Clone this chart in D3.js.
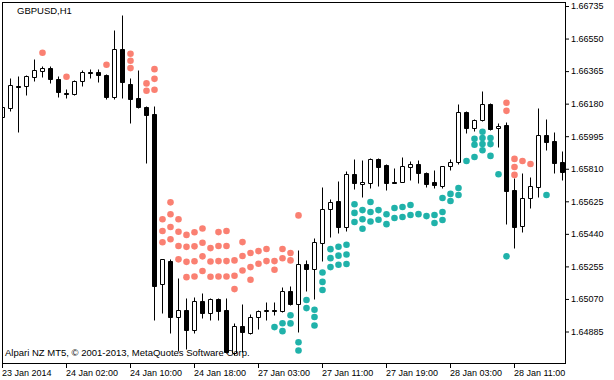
<!DOCTYPE html>
<html><head><meta charset="utf-8">
<script src="https://cdn.jsdelivr.net/npm/d3@7"></script>
<style>
html,body{margin:0;padding:0;background:#fff;}
svg{display:block;}
text{font-family:"Liberation Sans",Arial,sans-serif;fill:#000;}
</style></head>
<body>
<svg id="c" width="614" height="380"></svg>
<script>
const symbolTitle = "GBPUSD,H1";
const footer = "Alpari NZ MT5, © 2001-2013, MetaQuotes Software Corp.";
const xTickIndex = [0, 8, 16, 24, 32, 40, 48, 56, 64];
const xTickLabels = ["23 Jan 2014","24 Jan 02:00","24 Jan 10:00","24 Jan 18:00","27 Jan 03:00","27 Jan 11:00","27 Jan 19:00","28 Jan 03:00","28 Jan 11:00"];
const yTicks = [1.66735,1.66550,1.66365,1.66180,1.65995,1.65810,1.65625,1.65440,1.65255,1.65070,1.64885];

const opens  = [1.66103,1.66154,1.66283,1.66283,1.66331,1.66368,1.66382,1.66320,1.66240,1.66234,
                1.66308,1.66359,1.66359,1.66342,1.66217,1.66490,1.66291,1.66211,1.66160,1.66120,
                1.65153,1.65284,1.64970,1.65010,1.64891,1.65056,1.64988,1.65067,1.65005,1.64760,
                1.64919,1.64879,1.64965,1.64999,1.65005,1.64999,1.65113,1.65044,1.65266,1.65238,
                1.65386,1.65580,1.65625,1.65477,1.65779,1.65722,1.65728,1.65864,1.65830,1.65733,
                1.65733,1.65819,1.65836,1.65784,1.65733,1.65710,1.65824,1.65847,1.66132,1.66041,
                1.66086,1.66177,1.66041,1.66058,1.65688,1.65483,1.65642,1.65705,1.66001,1.65967,1.65847];
const highs  = [1.66172,1.66325,1.66337,1.66340,1.66433,1.66394,1.66394,1.66337,1.66263,1.66314,
                1.66371,1.66376,1.66376,1.66348,1.66598,1.66684,1.66325,1.66371,1.66166,1.66166,
                1.65297,1.65295,1.65187,1.65073,1.65079,1.65101,1.65073,1.65073,1.65073,1.64931,
                1.65039,1.64982,1.65010,1.65050,1.65050,1.65136,1.65141,1.65346,1.65289,1.65414,
                1.65705,1.65636,1.65739,1.65796,1.65864,1.65858,1.65870,1.65870,1.65836,1.65813,
                1.65876,1.65853,1.65858,1.65790,1.65802,1.65824,1.65864,1.66177,1.66137,1.66092,
                1.66251,1.66183,1.66069,1.66075,1.65756,1.65784,1.65762,1.66154,1.66092,1.66018,1.65910];
const lows   = [1.66092,1.66137,1.66018,1.66228,1.66308,1.66331,1.66297,1.66217,1.66211,1.66228,
                1.66280,1.66325,1.66302,1.66206,1.66206,1.66211,1.66069,1.66154,1.65841,1.64953,
                1.64988,1.64874,1.64777,1.64788,1.64879,1.64959,1.64953,1.64953,1.64760,1.64754,
                1.64766,1.64868,1.64902,1.64953,1.64976,1.64993,1.65033,1.64885,1.65118,1.65067,
                1.65284,1.65420,1.65443,1.65454,1.65693,1.65648,1.65699,1.65710,1.65688,1.65728,
                1.65733,1.65745,1.65728,1.65705,1.65699,1.65699,1.65802,1.65836,1.66012,1.66024,
                1.66080,1.66029,1.65932,1.65494,1.65358,1.65449,1.65585,1.65648,1.65915,1.65784,1.65745];
const closes = [1.66160,1.66285,1.66277,1.66337,1.66371,1.66382,1.66320,1.66246,1.66237,1.66308,
                1.66359,1.66356,1.66342,1.66217,1.66490,1.66302,1.66206,1.66160,1.66115,1.65143,
                1.65295,1.64965,1.65010,1.64891,1.65056,1.64988,1.65067,1.64999,1.64766,1.64914,
                1.64885,1.64965,1.64999,1.65010,1.65003,1.65113,1.65044,1.65266,1.65238,1.65392,
                1.65580,1.65619,1.65477,1.65779,1.65728,1.65733,1.65864,1.65819,1.65728,1.65731,
                1.65824,1.65836,1.65784,1.65722,1.65716,1.65824,1.65847,1.66132,1.66041,1.66086,
                1.66177,1.66035,1.66052,1.65682,1.65477,1.65642,1.65710,1.66001,1.65961,1.65841,1.65790];

// indicator dots: [bar index, price]
const salmonDots = [
  [5,1.66469],[8,1.66333],[13,1.66401],
  [16,1.66464],[16,1.66424],[16,1.66382],
  [18,1.66295],[18,1.66253],
  [19,1.66376],[19,1.66321],[19,1.66259],
  [20,1.65523],[20,1.65456],[20,1.65392],
  [21,1.65619],[21,1.65551],[21,1.65479],[21,1.65409],
  [22,1.65523],[22,1.65452],[22,1.65371],[22,1.65295],
  [23,1.65434],[23,1.65366],[23,1.65281],[23,1.65194],
  [24,1.65449],[24,1.65369],[24,1.65284],[24,1.65198],
  [25,1.65470],[25,1.65389],[25,1.65312],[25,1.65229],
  [26,1.65359],[26,1.65283],[26,1.65196],
  [27,1.65450],[27,1.65371],[27,1.65285],[27,1.65198],
  [28,1.65456],[28,1.65371],[28,1.65285],[28,1.65198],
  [29,1.65289],[29,1.65202],[29,1.65126],
  [30,1.65393],[30,1.65314],[30,1.65232],
  [31,1.65331],[31,1.65251],[31,1.65179],
  [32,1.65342],[32,1.65270],
  [33,1.65354],[33,1.65285],
  [34,1.65285],[34,1.65236],
  [35,1.65354],[35,1.65301],
  [36,1.65331],[36,1.65289],
  [37,1.65545],
  [63,1.66185],[63,1.66139],
  [64,1.65866],[64,1.65820],[64,1.65775],
  [65,1.65854],[66,1.65837]
];
const tealDots = [
  [34,1.64910],
  [35,1.64932],[35,1.64887],
  [36,1.64977],[36,1.64931],
  [37,1.64824],[37,1.64777],
  [38,1.65064],[38,1.65018],
  [39,1.65009],[39,1.64967],[39,1.64919],
  [40,1.65220],[40,1.65167],[40,1.65121],
  [41,1.65353],[41,1.65302],[41,1.65251],
  [42,1.65367],[42,1.65316],[42,1.65264],
  [43,1.65378],[43,1.65323],[43,1.65269],
  [44,1.65608],[44,1.65559],[44,1.65507],
  [45,1.65575],[45,1.65523],[45,1.65469],
  [46,1.65621],[46,1.65564],[46,1.65510],
  [47,1.65575],[47,1.65520],
  [48,1.65551],[48,1.65495],
  [49,1.65587],[49,1.65530],
  [50,1.65593],[50,1.65536],
  [51,1.65604],[51,1.65547],
  [52,1.65552],[53,1.65541],
  [54,1.65547],[54,1.65502],
  [55,1.65644],[55,1.65564],[55,1.65519],
  [56,1.65667],[56,1.65627],
  [57,1.65701],[57,1.65661],
  [58,1.65854],
  [59,1.65980],[59,1.65946],[59,1.65877],
  [60,1.66020],[60,1.65985],[60,1.65950],[60,1.65915],
  [61,1.65985],[61,1.65950],[61,1.65883],
  [62,1.65779],[63,1.65312],[68,1.65661]
];

const svg = d3.select("#c");
const x = d3.scaleLinear().domain([0, 70]).range([2, 562]);
const y = d3.scaleLinear().domain([1.64885, 1.66735]).range([331.5, 6]);
const cx = i => x(i) + 0.5;
const py = v => Math.round(y(v)) + 0.5;

svg.append("rect").attr("width",614).attr("height",380).attr("fill","#fff");

svg.append("defs").append("clipPath").attr("id","plot")
  .append("rect").attr("x",3).attr("y",3).attr("width",562).attr("height",360);

const plot = svg.append("g").attr("clip-path","url(#plot)");
const idx = d3.range(opens.length);

plot.selectAll("line.wick").data(idx).join("line").attr("class","wick")
  .attr("x1",cx).attr("x2",cx)
  .attr("y1",i=>py(highs[i])).attr("y2",i=>py(lows[i]))
  .attr("stroke","#000").attr("stroke-width",1);

plot.selectAll("path.body").data(idx).join("path").attr("class","body")
  .attr("d",i=>{
    const a = py(opens[i]), b = py(closes[i]);
    const t = Math.min(a,b), btm = Math.max(a,b);
    const l = cx(i)-2, r = cx(i)+2;
    return `M${l},${t}H${r}V${btm}H${l}Z`;
  })
  .attr("fill",i=> closes[i] >= opens[i] ? "#fff" : "#000")
  .attr("stroke","#000").attr("stroke-width",1);

plot.selectAll("circle.sal").data(salmonDots).join("circle").attr("class","sal")
  .attr("cx",d=>cx(d[0])).attr("cy",d=>y(d[1])).attr("r",3.3).attr("fill","#FA8072");
plot.selectAll("circle.teal").data(tealDots).join("circle").attr("class","teal")
  .attr("cx",d=>cx(d[0])).attr("cy",d=>y(d[1])).attr("r",3.3).attr("fill","#20B2AA");

// frame
svg.append("rect").attr("x",2.5).attr("y",2.5).attr("width",563).attr("height",361)
  .attr("fill","none").attr("stroke","#000").attr("stroke-width",1);

// y axis
const ya = svg.append("g").attr("transform","translate(565,0)")
  .call(d3.axisRight(y).tickValues(yTicks).tickFormat(d3.format(".5f")).tickSize(4).tickSizeOuter(0).tickPadding(2));
ya.select(".domain").remove();
ya.selectAll("text").attr("font-size","9px").attr("font-family","Liberation Sans, Arial, sans-serif").attr("fill","#000");
ya.selectAll("line").attr("stroke","#000");

// x axis
const xa = svg.append("g").attr("transform","translate(0,363)")
  .call(d3.axisBottom(x).tickValues(xTickIndex).tickFormat((d,i)=>xTickLabels[i]).tickSize(5).tickSizeOuter(0).tickPadding(2));
xa.select(".domain").remove();
xa.selectAll("text").attr("text-anchor","start").attr("x",-0.5)
  .attr("font-size","9px").attr("font-family","Liberation Sans, Arial, sans-serif").attr("fill","#000");
xa.selectAll("line").attr("stroke","#000");

svg.append("text").attr("x",17).attr("y",13.5).attr("font-size","9.5px").text(symbolTitle);
svg.append("text").attr("x",5).attr("y",355.5).attr("font-size","9.5px").text(footer);
</script>
</body></html>
